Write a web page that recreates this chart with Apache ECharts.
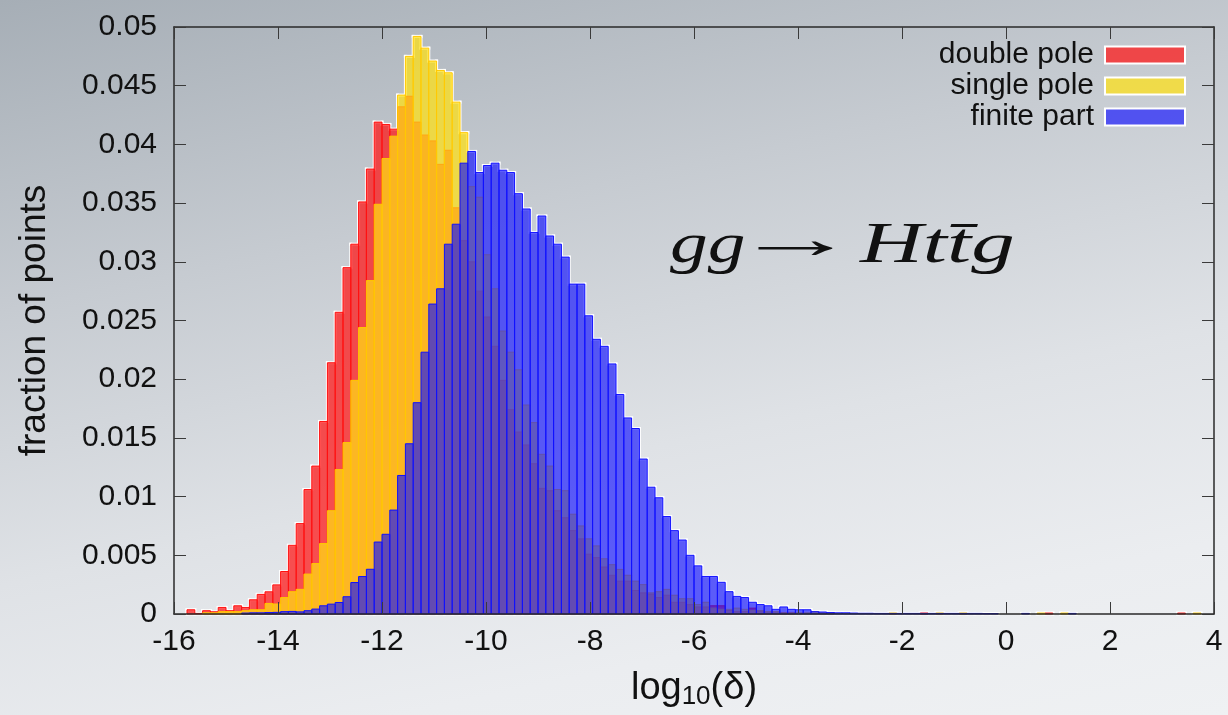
<!DOCTYPE html>
<html>
<head>
<meta charset="utf-8">
<title>fraction of points vs log10(δ)</title>
<script src="https://cdn.jsdelivr.net/npm/echarts@6/dist/echarts.min.js"></script>
<style>
  html, body { margin: 0; padding: 0; }
  body {
    width: 1228px; height: 715px; overflow: hidden;
    background: linear-gradient(168deg, #a6aeb6 0%, #c6cbd1 32%, #dfe2e6 60%, #ebedf0 82%, #eff1f3 100%);
  }
  #chart { width: 1228px; height: 715px; }
</style>
</head>
<body>
<div id="chart"></div>
<script>
// histogram bins: width 0.15, left edge of bin i = (firstBin + i) * binWidth
const binWidth = 0.15
const firstBin = -106

const seriesNames = ['double pole', 'single pole', 'finite part']

const doublePole = [
  0, 0.00036, 0.00005, 0.00028, 0.00019, 0.00056, 0.00028, 0.0007, 0.00056, 0.00121,
  0.00167, 0.00189, 0.00248, 0.00362, 0.00585, 0.0077, 0.0106, 0.0126, 0.0164, 0.0214,
  0.0257, 0.0295, 0.0315, 0.0351, 0.0379, 0.0419, 0.0417, 0.0413, 0.0432, 0.0441,
  0.0419, 0.0408, 0.0403, 0.0383, 0.0395, 0.0346, 0.0318, 0.0300, 0.0275, 0.0253,
  0.0228, 0.0199, 0.0174, 0.0155, 0.0144, 0.0128, 0.0107, 0.0105, 0.0088, 0.0082,
  0.0071, 0.0064, 0.0051, 0.0048, 0.0040, 0.0033, 0.0028, 0.0028, 0.0020, 0.0018,
  0.0017, 0.0014, 0.0016, 0.0010, 0.0010, 0.0008, 0.0006, 0.0006, 0.0007, 0.0007,
  0.0003, 0.0002, 0.0002, 0.0005, 0.0002, 0.0001, 0.0001, 0.0001, 0.0001, 0,
  0, 0, 0, 0, 0, 0, 0, 0, 0, 0,
  0, 0, 0, 0, 0, 0.00008, 0, 0, 0, 0,
  0, 0, 0, 0, 0, 0, 0, 0, 0, 0,
  0, 0.00008, 0, 0, 0, 0, 0, 0, 0, 0,
  0, 0, 0, 0, 0, 0, 0, 0, 0.00008, 0,
  0, 0
]

const singlePole = [
  0, 0, 0, 0.0001, 0.0001, 0.0002, 0.0002, 0.0002, 0.00028, 0.00036,
  0.00036, 0.0009, 0.00085, 0.0014, 0.0019, 0.0021, 0.0034, 0.0043, 0.006, 0.0088,
  0.0123, 0.0146, 0.0199, 0.0244, 0.0284, 0.0349, 0.0388, 0.0407, 0.0442, 0.0475,
  0.0492, 0.0482, 0.0471, 0.0463, 0.0461, 0.0436, 0.0410, 0.0364, 0.0355, 0.0306,
  0.0277, 0.0241, 0.0223, 0.0208, 0.0178, 0.0163, 0.0136, 0.0126, 0.0106, 0.0105,
  0.0085, 0.0075, 0.0064, 0.0058, 0.0047, 0.0042, 0.0038, 0.0033, 0.0028, 0.0025,
  0.0018, 0.0019, 0.0021, 0.0016, 0.0013, 0.0013, 0.0008, 0.0010, 0.0005, 0.0004,
  0.0004, 0.0005, 0.0004, 0.0003, 0.0003, 0.0002, 0.0002, 0.0001, 0.0001, 0.0001,
  0.0001, 0.0002, 0.0001, 0.00012, 0, 0, 0, 0, 0, 0,
  0, 0.00008, 0, 0, 0, 0, 0, 0.00008, 0, 0,
  0.00008, 0, 0, 0, 0, 0, 0, 0, 0, 0,
  0.00008, 0, 0, 0.00008, 0, 0, 0, 0, 0, 0,
  0, 0, 0, 0, 0, 0, 0, 0, 0, 0,
  0.00008, 0
]

const finitePart = [
  0, 0, 0, 0, 0, 0, 0, 0, 0.00008, 0.0001,
  0.0001, 0.00012, 0.00014, 0.0002, 0.00022, 0.00018, 0.00028, 0.00042, 0.0007, 0.00084,
  0.00098, 0.00147, 0.00268, 0.00319, 0.00381, 0.00613, 0.00679, 0.00885, 0.0118, 0.0145,
  0.018, 0.0223, 0.0264, 0.0277, 0.0315, 0.0332, 0.0384, 0.0394, 0.0376, 0.0382,
  0.0384, 0.0378, 0.0376, 0.0358, 0.0345, 0.0325, 0.0339, 0.0322, 0.0315, 0.0304,
  0.0281, 0.0281, 0.0254, 0.0234, 0.0228, 0.0213, 0.0187, 0.0167, 0.0158, 0.0132,
  0.0108, 0.0099, 0.0083, 0.0071, 0.0063, 0.0050, 0.0041, 0.0032, 0.0032, 0.0027,
  0.0019, 0.0015, 0.0014, 0.0010, 0.0008, 0.0007, 0.0004, 0.0006, 0.0004, 0.00036,
  0.00036, 0.0002, 0.00017, 0.00012, 0.0001, 0.0001, 0.00008, 0.00006, 0.00006, 0.00005,
  0.00005, 0.00005, 0.00005, 0.00005, 0.00005, 0.00005, 0.00005, 0.00005, 0.00005, 0.00005,
  0.00005, 0.00005, 0.00005, 0.00004, 0.00004, 0, 0, 0, 0.00005, 0,
  0, 0, 0, 0, 0.00005, 0, 0, 0, 0, 0,
  0, 0, 0, 0, 0, 0, 0, 0, 0, 0,
  0, 0
]

const xTicks = { min: -16, max: 4, interval: 2 }
const yTicks = { min: 0, max: 0.05, interval: 0.005 }

const sans = '"Liberation Sans", Arial, sans-serif'
const serif = '"Liberation Serif", "DejaVu Serif", serif'

const binEdge = i => Math.round((firstBin + i) * binWidth * 100) / 100
const toData = arr => arr.map((v, i) => [binEdge(i), v])

// outer outline of all three histograms (white halo)
const envelope = doublePole.map((v, i) => Math.max(v, singlePole[i], finitePart[i]))
const envelopeData = envelope.map((v, i) => [binEdge(i), v, i ? envelope[i - 1] : 0])

const barItem = (fill, stroke) => (params, api) => {
  const v = api.value(1)
  if (!v) return null
  const a = api.coord([api.value(0), 0])
  const b = api.coord([api.value(0) + binWidth, v])
  return {
    type: 'rect',
    shape: { x: a[0], y: b[1], width: b[0] - a[0], height: a[1] - b[1] },
    style: { fill: fill, stroke: stroke, lineWidth: 1 }
  }
}

const haloItem = (params, api) => {
  const x0 = api.value(0), v = api.value(1), prev = api.value(2)
  const a = api.coord([x0, 0])
  const b = api.coord([x0 + binWidth, v])
  const p = api.coord([x0, prev])
  const line = { stroke: '#ffffff', lineWidth: 3, lineCap: 'square' }
  const children = []
  if (v !== prev) {
    children.push({ type: 'line', shape: { x1: a[0], y1: p[1], x2: a[0], y2: b[1] }, style: line })
  }
  if (v > 0) {
    children.push({ type: 'line', shape: { x1: a[0], y1: b[1], x2: b[0], y2: b[1] }, style: line })
    children.push({ type: 'line', shape: { x1: a[0], y1: a[1], x2: b[0], y2: a[1] }, style: line })
  }
  return { type: 'group', children: children }
}

const colors = {
  red: 'rgba(255, 20, 20, 0.72)',
  yellow: 'rgba(255, 225, 20, 0.72)',
  blue: 'rgba(15, 15, 255, 0.65)'
}

const chart = echarts.init(document.getElementById('chart'))

const frameAxis = {
  axisLine: { show: true, onZero: false, lineStyle: { color: '#2a2a2a', width: 1.5 } },
  axisTick: { show: true, inside: true, length: 12, lineStyle: { color: '#3a3a3a', width: 1 } },
  splitLine: { show: false },
  z: 10
}

chart.setOption({
  animation: false,
  backgroundColor: 'transparent',
  grid: { left: 174, right: 14, top: 27, bottom: 98 },
  legend: {
    orient: 'vertical',
    right: 37,
    top: 35,
    align: 'right',
    icon: 'rect',
    itemWidth: 80,
    itemHeight: 17,
    itemGap: 1,
    textStyle: { fontSize: 30, color: '#111', fontFamily: sans, lineHeight: 30, padding: [0, 6, 0, 0] },
    itemStyle: { borderColor: '#ffffff', borderWidth: 2 },
    data: seriesNames
  },
  xAxis: [
    Object.assign({
      type: 'value', position: 'bottom',
      min: xTicks.min, max: xTicks.max, interval: xTicks.interval,
      axisLabel: { fontSize: 30, color: '#111', fontFamily: sans, margin: 13 },
      name: '{a|log}{b|10}{a|(δ)}',
      nameLocation: 'middle',
      nameGap: 54,
      nameTextStyle: {
        rich: {
          a: { fontSize: 38, fontFamily: sans, color: '#111' },
          b: { fontSize: 26, fontFamily: sans, color: '#111', verticalAlign: 'bottom', padding: [16, 0, 0, 0] }
        }
      }
    }, frameAxis),
    Object.assign({
      type: 'value', position: 'top',
      min: xTicks.min, max: xTicks.max, interval: xTicks.interval,
      axisLabel: { show: false }
    }, frameAxis)
  ],
  yAxis: [
    Object.assign({
      type: 'value', position: 'left',
      min: yTicks.min, max: yTicks.max, interval: yTicks.interval,
      axisLabel: { fontSize: 30, color: '#111', fontFamily: sans, margin: 17, formatter: v => String(+v.toFixed(3)) },
      name: 'fraction of points',
      nameLocation: 'middle',
      nameGap: 121,
      nameTextStyle: { fontSize: 37, color: '#111', fontFamily: sans }
    }, frameAxis),
    Object.assign({
      type: 'value', position: 'right',
      min: yTicks.min, max: yTicks.max, interval: yTicks.interval,
      axisLabel: { show: false }
    }, frameAxis)
  ],
  graphic: [
    { type: 'text', x: 670, y: 218, scaleX: 1.3, style: { text: 'gg', font: 'italic 58px ' + serif, fill: '#111' } },
    { type: 'text', x: 733, y: 214, scaleX: 2.15, style: { text: '→', font: '58px ' + serif, fill: '#111' } },
    { type: 'text', x: 860, y: 218, scaleX: 1.5, style: { text: 'Htt\u0304g', font: 'italic 58px ' + serif, fill: '#111' } }
  ],
  series: [
    {
      name: 'halo', type: 'custom', renderItem: haloItem, data: envelopeData, z: 1,
      encode: { x: 0, y: 1 }, silent: true
    },
    {
      name: seriesNames[0], type: 'custom', renderItem: barItem(colors.red, '#ff1010'),
      data: toData(doublePole), z: 2, encode: { x: 0, y: 1 },
      itemStyle: { color: colors.red }
    },
    {
      name: seriesNames[1], type: 'custom', renderItem: barItem(colors.yellow, '#ffc800'),
      data: toData(singlePole), z: 3, encode: { x: 0, y: 1 },
      itemStyle: { color: colors.yellow }
    },
    {
      name: seriesNames[2], type: 'custom', renderItem: barItem(colors.blue, '#1010ff'),
      data: toData(finitePart), z: 4, encode: { x: 0, y: 1 },
      itemStyle: { color: colors.blue }
    }
  ]
})
</script>
</body>
</html>
